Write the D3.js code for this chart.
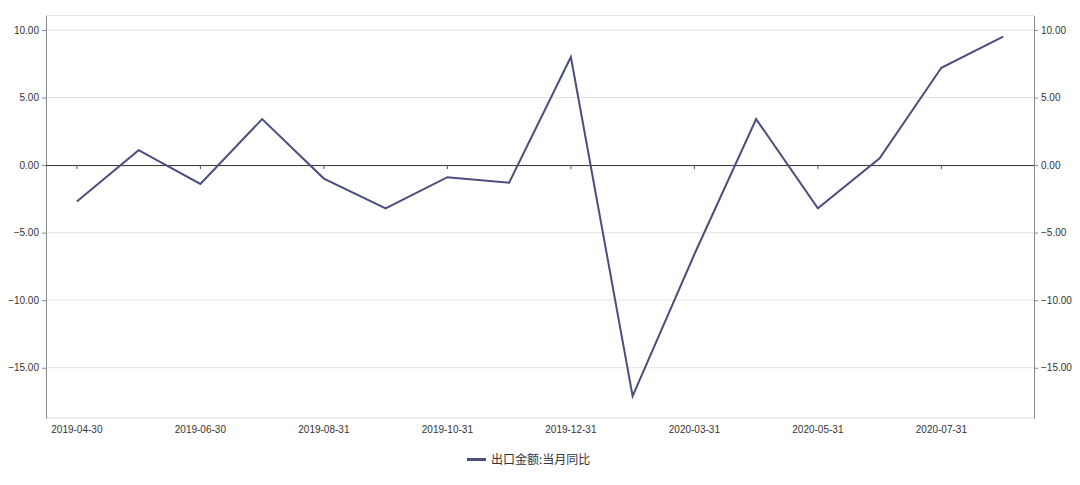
<!DOCTYPE html>
<html>
<head>
<meta charset="utf-8">
<script src="https://cdn.jsdelivr.net/npm/d3@7/dist/d3.min.js"></script>
<style>
  html, body { margin: 0; padding: 0; background: #fff; }
  svg { display: block; }
</style>
</head>
<body>
<svg id="chart" width="1080" height="485"></svg>
<script>
const categories = ["2019-04-30","2019-05-31","2019-06-30","2019-07-31","2019-08-31","2019-09-30","2019-10-31","2019-11-30","2019-12-31","2020-02-29","2020-03-31","2020-04-30","2020-05-31","2020-06-30","2020-07-31","2020-08-31"];
const exportYoY = [-2.7, 1.1, -1.4, 3.4, -1.0, -3.2, -0.9, -1.3, 8.0, -17.1, -6.6, 3.4, -3.2, 0.5, 7.2, 9.5];
const yTicks = [-15, -10, -5, 0, 5, 10];
const seriesName = "出口金额:当月同比";

const svg = d3.select("#chart");
const m = { left: 46, right: 1034, top: 15.5, bottom: 418 };
const font = "'Liberation Sans', Arial, Helvetica, sans-serif";

const x = d3.scaleBand().domain(categories).range([m.left, m.right]);
const y = d3.scaleLinear().domain([-18.72, 11.07]).range([m.bottom, m.top]);
const cx = d => x(d) + x.bandwidth() / 2;

// grid lines
svg.append("g").selectAll("line").data(yTicks.filter(t => t !== 0)).join("line")
  .attr("x1", m.left).attr("x2", m.right)
  .attr("y1", d => y(d)).attr("y2", d => y(d))
  .attr("stroke", "#e3e3e3").attr("stroke-width", 1);

// top and bottom border
svg.append("line").attr("x1", m.left).attr("x2", m.right).attr("y1", m.top).attr("y2", m.top)
  .attr("stroke", "#e3e3e3");
svg.append("line").attr("x1", m.left).attr("x2", m.right).attr("y1", m.bottom).attr("y2", m.bottom)
  .attr("stroke", "#dcdcdc");

// left axis
const fmt = d3.format(".2f");
const leftAxis = d3.axisLeft(y).tickValues(yTicks).tickFormat(fmt).tickSize(4).tickSizeOuter(0);
const gl = svg.append("g").attr("transform", `translate(${m.left},0)`).call(leftAxis);
gl.select(".domain").attr("stroke", "#8a8a8a");
gl.selectAll(".tick line").attr("stroke", "#8a8a8a");
gl.selectAll(".tick text").attr("font-family", font).attr("font-size", 10).attr("fill", "#333").attr("x", -7);

// right axis
const rightAxis = d3.axisRight(y).tickValues(yTicks).tickFormat(fmt).tickSize(4).tickSizeOuter(0);
const gr = svg.append("g").attr("transform", `translate(${m.right},0)`).call(rightAxis);
gr.select(".domain").attr("stroke", "#8a8a8a");
gr.selectAll(".tick line").attr("stroke", "#8a8a8a");
gr.selectAll(".tick text").attr("font-family", font).attr("font-size", 10).attr("fill", "#333").attr("x", 7);

// zero axis line with ticks
const xAxis = d3.axisBottom(x)
  .tickValues(categories.filter((d, i) => i % 2 === 0))
  .tickSize(4).tickSizeOuter(0).tickFormat("");
const gx = svg.append("g").attr("transform", `translate(0,${y(0)})`).call(xAxis);
gx.select(".domain").attr("stroke", "#333").attr("d", `M${m.left},0.5H${m.right}`);
gx.selectAll(".tick line").attr("stroke", "#555");

// x labels at bottom
svg.append("g").selectAll("text").data(categories.filter((d, i) => i % 2 === 0)).join("text")
  .attr("x", d => cx(d)).attr("y", 433)
  .attr("text-anchor", "middle")
  .attr("font-family", font).attr("font-size", 10).attr("fill", "#333")
  .text(d => d);

// line
const line = d3.line().x((d, i) => cx(categories[i])).y(d => y(d));
svg.append("path").datum(exportYoY)
  .attr("d", line)
  .attr("fill", "none")
  .attr("stroke", "#4b4e7e")
  .attr("stroke-width", 2)
  .attr("stroke-linejoin", "miter");

// legend
const lg = svg.append("g");
lg.append("line").attr("x1", 467).attr("x2", 486).attr("y1", 459.5).attr("y2", 459.5)
  .attr("stroke", "#4b4e7e").attr("stroke-width", 3);
lg.append("text").attr("x", 491).attr("y", 464)
  .attr("font-family", "'Noto Sans CJK SC', sans-serif").attr("font-size", 12).attr("fill", "#333")
  .text(seriesName);
</script>
</body>
</html>
